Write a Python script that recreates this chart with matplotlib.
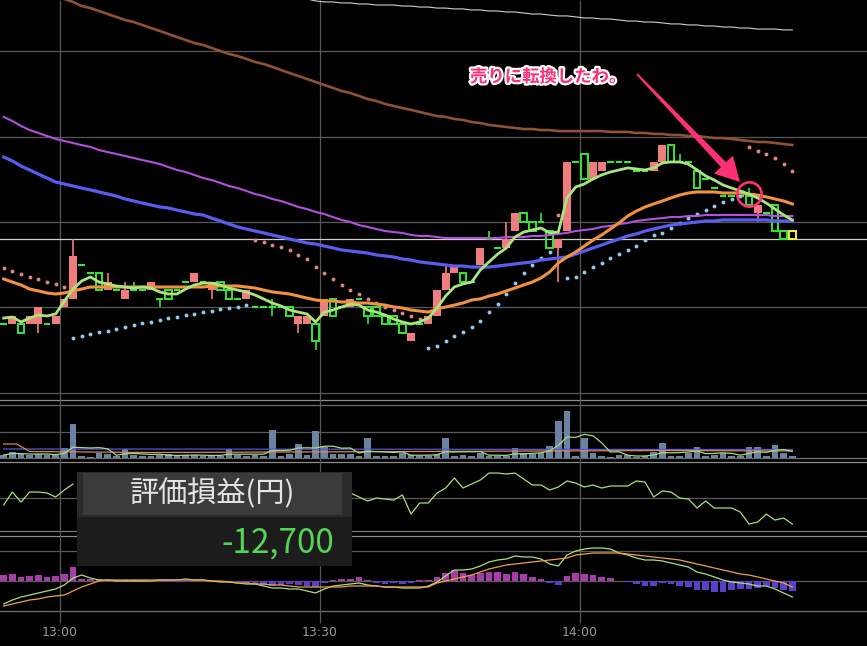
import numpy as np
import pandas as pd
import matplotlib
matplotlib.use("Agg")
import matplotlib.pyplot as plt
import matplotlib.patheffects as pe
from matplotlib.patches import Rectangle, Polygon

plt.rcParams['font.family'] = ['Noto Sans CJK JP', 'DejaVu Sans']

W, H = 867, 646

# ---------------- data: one-minute bars, minutes after 13:00 ----------------
bar_minute = list(range(-7, 85))
time_labels = ['13:00', '13:30', '14:00']

open_ = [21840, 21840, 21840, 21840, 21840, 21840, 21840, 21850, 21855, 21875,
         21870, 21870, 21860, 21860, 21855, 21860, 21860, 21860, 21855, 21860,
         21860, 21865, 21865, 21865, 21860, 21865, 21860, 21855, 21855, 21850,
         21850, 21850, 21850, 21850, 21840, 21840, 21840, 21845, 21855, 21850,
         21850, 21855, 21850, 21850, 21845, 21845, 21840, 21830, 21840, 21840,
         21845, 21860, 21870, 21870, 21865, 21875, 21890, 21885, 21885, 21895,
         21905, 21900, 21900, 21895, 21885, 21895, 21935, 21940, 21925, 21930,
         21935, 21935, 21935, 21930, 21930, 21930, 21935, 21945, 21935, 21935,
         21930, 21925, 21920, 21915, 21915, 21915, 21915, 21905, 21905, 21910, 21895, 21895]
high = [21840, 21845, 21840, 21845, 21850, 21840, 21845, 21855, 21890, 21875,
        21870, 21870, 21870, 21860, 21865, 21865, 21860, 21865, 21855, 21860,
        21860, 21865, 21870, 21865, 21865, 21865, 21860, 21855, 21860, 21850,
        21850, 21855, 21850, 21850, 21845, 21845, 21840, 21855, 21855, 21850,
        21855, 21855, 21850, 21850, 21845, 21845, 21840, 21835, 21840, 21845,
        21860, 21875, 21875, 21870, 21865, 21885, 21895, 21885, 21900, 21905,
        21905, 21900, 21905, 21895, 21890, 21935, 21935, 21940, 21935, 21935,
        21935, 21935, 21935, 21930, 21930, 21935, 21945, 21945, 21940, 21935,
        21930, 21925, 21920, 21915, 21915, 21915, 21920, 21910, 21905, 21910, 21895, 21895]
low = [21840, 21840, 21835, 21840, 21835, 21840, 21840, 21850, 21855, 21875,
       21870, 21860, 21860, 21860, 21855, 21860, 21860, 21860, 21850, 21855,
       21860, 21865, 21865, 21865, 21855, 21860, 21855, 21855, 21855, 21850,
       21850, 21845, 21850, 21845, 21835, 21840, 21825, 21845, 21845, 21850,
       21850, 21855, 21840, 21845, 21840, 21840, 21835, 21830, 21840, 21840,
       21845, 21860, 21870, 21865, 21865, 21875, 21890, 21885, 21885, 21895,
       21900, 21895, 21900, 21885, 21865, 21895, 21935, 21925, 21925, 21930,
       21935, 21935, 21935, 21930, 21930, 21930, 21935, 21935, 21935, 21935,
       21920, 21925, 21920, 21915, 21915, 21915, 21910, 21900, 21905, 21895, 21890, 21890]
close = [21840, 21845, 21835, 21845, 21850, 21840, 21845, 21855, 21880, 21875,
         21870, 21860, 21865, 21860, 21860, 21860, 21860, 21865, 21855, 21855,
         21860, 21865, 21870, 21865, 21865, 21860, 21855, 21855, 21860, 21850,
         21850, 21850, 21850, 21845, 21845, 21845, 21830, 21855, 21845, 21850,
         21855, 21855, 21845, 21845, 21840, 21840, 21835, 21835, 21840, 21845,
         21860, 21870, 21875, 21865, 21865, 21885, 21890, 21885, 21890, 21905,
         21900, 21895, 21900, 21885, 21890, 21935, 21935, 21925, 21935, 21935,
         21935, 21935, 21935, 21930, 21930, 21935, 21945, 21935, 21935, 21935,
         21920, 21925, 21920, 21915, 21915, 21915, 21910, 21910, 21905, 21895, 21890, 21890]

# moving averages on the price chart
ma_short = [21843.7, 21844.3, 21841.4, 21843.7, 21845.5, 21844.9, 21846.1, 21853.7, 21860.7, 21865.4,
            21867.8, 21864.8, 21863.7, 21862.5, 21861.9, 21861.3, 21861.9, 21861.3, 21859.0, 21857.8,
            21857.8, 21860.7, 21863.1, 21864.2, 21864.2, 21863.1, 21861.3, 21860.1, 21859.0, 21857.2,
            21854.9, 21852.5, 21850.8, 21848.4, 21847.2, 21846.1, 21841.4, 21847.2, 21848.4, 21850.2,
            21851.9, 21851.3, 21848.4, 21847.2, 21845.5, 21843.1, 21841.4, 21840.2, 21841.4, 21843.7,
            21849.6, 21856.6, 21861.9, 21863.7, 21864.8, 21871.9, 21876.6, 21881.2, 21884.8, 21891.2,
            21894.1, 21895.3, 21896.5, 21893.6, 21894.1, 21914.1, 21920.5, 21922.3, 21925.2, 21927.6,
            21929.3, 21930.5, 21931.7, 21931.1, 21930.5, 21931.7, 21934.6, 21935.2, 21935.2, 21934.0,
            21930.5, 21927.0, 21924.6, 21921.7, 21919.9, 21918.2, 21916.4, 21914.1, 21911.1, 21907.6,
            21904.1, 21901.2]
ma_mid = [21866.6, 21864.8, 21863.1, 21860.7, 21859.6, 21858.4, 21857.8, 21858.4, 21859.6, 21860.7,
          21861.9, 21861.9, 21861.9, 21861.9, 21861.9, 21861.9, 21861.9, 21861.9, 21861.9, 21861.9,
          21861.9, 21861.9, 21861.9, 21861.9, 21862.5, 21862.5, 21862.5, 21862.5,
          21861.9, 21861.3, 21860.1, 21859.0, 21858.4, 21857.8, 21856.6, 21855.4, 21854.3, 21853.7,
          21853.7, 21853.1, 21853.1, 21852.5, 21852.5, 21851.9, 21851.3, 21850.2, 21849.6, 21848.4,
          21847.8, 21847.2, 21849.0, 21850.2, 21851.3, 21852.5, 21854.3, 21854.9, 21856.6, 21857.8,
          21859.6, 21861.3, 21863.1, 21864.8, 21867.2, 21870.7, 21876.0, 21879.5, 21882.4, 21885.9,
          21889.4, 21892.4, 21895.9, 21899.4, 21903.5, 21906.4, 21908.8, 21910.6, 21912.3, 21914.1,
          21915.8, 21917.0, 21917.6, 21917.6, 21917.6, 21917.0, 21917.0, 21917.0, 21916.4, 21915.8,
          21914.7, 21913.5, 21912.3, 21910.6]
ma_long_blue = [21938.1, 21935.8, 21932.8, 21930.5, 21928.1, 21925.8, 21923.4, 21922.3, 21921.1, 21919.9,
                21918.8, 21917.6, 21916.4, 21915.2, 21913.5, 21912.3, 21911.1, 21910.0, 21908.8, 21908.2,
                21907.0, 21905.9, 21904.7, 21904.1, 21902.3, 21900.6, 21898.8, 21897.1, 21895.9, 21894.7,
                21893.6, 21892.4, 21891.2, 21890.0, 21888.9, 21887.7, 21887.1, 21885.9, 21884.8, 21883.6,
                21883.0, 21882.4, 21881.8, 21880.7, 21880.1, 21879.5, 21878.3, 21877.7, 21876.6, 21876.0,
                21875.4, 21874.8, 21874.2, 21874.2, 21873.6, 21873.6, 21873.6, 21874.2, 21874.8, 21875.4,
                21876.0, 21876.6, 21877.7, 21878.3, 21878.9, 21879.5, 21881.2, 21883.0, 21884.8, 21886.5,
                21888.3, 21890.0, 21891.8, 21893.0, 21894.7, 21895.9, 21897.1, 21898.2, 21898.8, 21899.4,
                21900.0, 21900.6, 21900.6, 21901.2, 21901.2, 21901.2, 21901.2, 21901.2, 21901.2, 21900.6,
                21900.6, 21900.6]
ma_long_purple = [21961.6, 21959.2, 21956.3, 21953.9, 21952.2, 21950.4, 21948.7, 21947.5, 21946.3, 21945.1,
                  21944.0, 21942.2, 21941.0, 21939.9, 21938.7, 21937.5, 21936.3, 21935.2, 21934.0, 21932.2,
                  21930.5, 21929.3, 21927.6, 21925.8, 21924.6, 21922.9, 21921.1, 21919.9, 21918.2, 21916.4,
                  21915.2, 21913.5, 21912.3, 21910.6, 21908.8, 21907.6, 21905.9, 21904.7, 21902.9, 21901.2,
                  21900.0, 21898.2, 21897.1, 21895.9, 21894.7, 21894.1, 21893.6, 21892.4, 21891.8, 21891.8,
                  21891.2, 21890.6, 21890.6, 21890.6, 21890.6, 21890.6, 21890.6, 21890.6, 21891.2, 21891.2,
                  21891.2, 21891.8, 21891.8, 21892.4, 21893.0, 21893.6, 21894.7, 21895.3, 21895.9, 21897.1,
                  21897.7, 21898.8, 21899.4, 21900.6, 21901.2, 21901.8, 21902.3, 21902.9, 21902.9, 21903.5,
                  21903.5, 21904.1, 21904.1, 21904.1, 21904.1, 21904.1, 21904.1, 21904.1, 21904.1, 21903.5,
                  21903.5, 21903.5]
ma_long_brown = [22041.9, 22040.1, 22038.3, 22036.6, 22034.8, 22033.1, 22031.9, 22030.7, 22029.0, 22026.6,
                 22025.4, 22023.7, 22021.9, 22020.2, 22018.4, 22017.2, 22015.5, 22013.7, 22012.0, 22010.2,
                 22008.4, 22006.7, 22004.9, 22003.8, 22002.0, 22000.2, 21998.5, 21997.3, 21995.6, 21993.8,
                 21992.6, 21990.9, 21989.1, 21987.3, 21985.6, 21983.8, 21982.1, 21980.3, 21978.6, 21976.8,
                 21975.6, 21973.9, 21972.1, 21970.9, 21969.2, 21968.0, 21966.8, 21965.7, 21964.5, 21963.3,
                 21962.1, 21961.6, 21960.4, 21959.8, 21958.6, 21958.0, 21956.9, 21956.3, 21955.7, 21955.1,
                 21954.5, 21954.5, 21953.9, 21953.9, 21953.3, 21953.3, 21953.3, 21953.3, 21953.3, 21953.3,
                 21952.8, 21952.8, 21952.8, 21952.2, 21952.2, 21951.6, 21951.6, 21951.0, 21951.0, 21950.4,
                 21950.4, 21949.8, 21949.2, 21949.2, 21948.7, 21948.1, 21947.5, 21946.9, 21946.9, 21946.3,
                 21945.7, 21945.1]
ma_longest = [None] * 34 + [
    22031.3, 22030.7, 22029.6, 22029.0, 22029.0, 22028.4, 22028.4, 22027.8, 22027.8, 22027.2,
    22027.2, 22027.2, 22026.6, 22026.6, 22026.0, 22026.0, 22025.4, 22025.4, 22024.9, 22024.9,
    22024.3, 22024.3, 22023.7, 22023.7, 22023.1, 22023.1, 22022.5, 22021.9, 22021.9, 22021.3,
    22020.8, 22020.8, 22020.2, 22019.6, 22019.6, 22019.0, 22019.0, 22018.4, 22017.8, 22017.8,
    22017.2, 22017.2, 22016.7, 22016.1, 22016.1, 22015.5, 22015.5, 22014.9, 22014.9, 22014.3,
    22014.3, 22013.7, 22013.7, 22013.1, 22013.1, 22013.1, 22012.6, 22012.6]

# parabolic SAR: value per bar and side (D = above price, U = below price)
sar = [21873.0, 21871.3, 21869.5, 21867.8, 21866.6, 21864.8, 21863.7, 21861.9,
       21832.0, 21833.2, 21834.3, 21835.5, 21836.1, 21837.3, 21838.4, 21839.6, 21840.8, 21841.4,
       21842.6, 21843.7, 21844.3, 21845.5, 21846.1, 21847.2, 21847.8, 21849.0, 21849.6, 21850.2, 21851.3,
       21889.4, 21888.3, 21886.5, 21885.3, 21883.6, 21880.7, 21878.3, 21873.6, 21870.1, 21866.6,
       21863.1, 21860.1, 21857.8, 21854.9, 21852.5, 21850.2, 21848.4, 21846.7, 21844.9, 21843.1,
       21826.1, 21827.3, 21830.2, 21833.2, 21835.5, 21838.4, 21842.0, 21847.2, 21851.9, 21857.8,
       21864.2, 21870.1, 21874.8, 21878.9, 21882.4,
       21904.1,
       21867.2, 21867.8, 21870.7, 21873.6, 21876.0, 21878.9, 21881.2, 21883.6, 21885.9, 21889.4,
       21892.4, 21893.6, 21896.5, 21899.4, 21902.3, 21904.7, 21907.0, 21909.4, 21911.7, 21913.5, 21915.2,
       21944.0, 21941.6, 21939.9, 21937.5, 21934.0, 21929.9]
sar_side = ("DDDDDDDD" "UUUUUUUUUUUUUUUUUUUUU" "DDDDDDDDDDDDDDDDDDDD"
            "UUUUUUUUUUUUUUU" "D" "UUUUUUUUUUUUUUUUUUUUU" "DDDDDD")

volume = [60, 120, 80, 60, 80, 60, 60, 200, 680, 40,
          20, 100, 80, 40, 180, 60, 40, 40, 60, 80,
          40, 60, 60, 40, 60, 40, 180, 60, 40, 60,
          40, 560, 40, 80, 280, 60, 540, 220, 80, 80,
          80, 40, 400, 40, 40, 40, 100, 60, 40, 40,
          80, 400, 40, 60, 40, 100, 40, 40, 40, 200,
          100, 80, 100, 240, 740, 940, 40, 400, 100, 40,
          20, 60, 60, 20, 40, 120, 300, 40, 40, 100,
          220, 40, 60, 100, 40, 40, 220, 220, 40, 260, 100, 40]
vol_mid_t = [-7, -5.5, -4, 10, 25, 40, 55, 70, 84]
vol_mid = [280, 280, 130, 110, 120, 130, 140, 150, 140]
vol_long_t = [-7, 40, 84]
vol_long = [180, 175, 170]

rsi = [37.7, 56.5, 42.0, 56.5, 56.5, 55.1, 49.3, 59.4, 68.1] + [None] * 31 + [
    55.1, 49.3, 43.5, 47.8, 46.4, 44.9, 52.2, 24.6, 40.6, 40.6,
    55.1, 62.3, 76.8, 62.3, 68.1, 73.9, 84.0, 84.0, 82.6, 84.0,
    75.4, 66.7, 66.7, 59.4, 63.8, 72.5, 69.6, 63.8, 66.7, 62.3,
    65.2, 65.2, 65.2, 72.5, 71.0, 49.3, 58.0, 56.5, 47.8, 46.4,
    33.3, 43.5, 33.3, 33.3, 33.3, 27.5, 10.1, 13.0, 24.6, 15.9, 18.8, 10.1]

macd = [-5.75, -4.75, -4.0, -3.5, -3.0, -2.5, -2.0, -1.0, 0.75, 1.5,
        0.75, 0.25, 0.25, 0, 0, 0, 0, 0, 0.25, 0.25,
        0.25, 0.5, 0.25, 0.25, 0, -0.25, -0.25, -0.5, -0.75, -0.75,
        -1.25, -1.75, -1.75, -2.0, -2.0, -2.5, -3.0, -2.0, -1.25, -1.0,
        -0.75, -0.5, -1.0, -1.25, -1.5, -1.5, -1.75, -1.75, -1.75, -1.25,
        -0.25, 1.25, 2.75, 2.75, 3.0, 3.75, 4.75, 5.25, 5.5, 6.25,
        6.0, 6.0, 5.5, 4.25, 3.75, 6.5, 7.5, 8.0, 8.25, 8.25,
        8.0, 7.0, 6.5, 5.75, 5.25, 5.25, 5.0, 4.5, 4.0, 3.5,
        2.25, 1.75, 1.0, 0.25, -0.25, -0.5, -0.75, -1.25, -1.25, -2.0, -3.0, -4.0]
macd_signal = [-6.25, -5.75, -5.25, -4.75, -4.5, -4.0, -3.75, -3.5, -2.5, -1.5,
               -0.75, 0, 0.25, 0.25, 0.25, 0.25, 0.25, 0.25, 0.25, 0.25,
               0.25, 0.25, 0.25, 0.25, 0, 0, -0.25, -0.5, -0.5, -0.75,
               -0.75, -1.0, -1.0, -1.25, -1.5, -1.5, -1.5, -1.5, -1.5, -1.5,
               -1.25, -1.25, -1.25, -1.25, -1.5, -1.5, -1.5, -1.5, -1.5, -1.5,
               -0.5, 0, 0.5, 1.0, 1.5, 2.25, 3.0, 3.5, 4.0, 4.25,
               4.5, 4.75, 5.0, 5.25, 5.5, 5.75, 6.5, 6.75, 7.0, 7.0,
               7.0, 7.0, 6.75, 6.5, 6.25, 6.0, 5.75, 5.5, 5.25, 4.75,
               4.25, 3.75, 3.25, 2.75, 2.25, 1.75, 1.5, 1.0, 0.5, 0, -0.5, -1.5]
macd_hist = [1.5, 1.75, 1.0, 1.25, 1.5, 1.0, 1.25, 1.75, 3.5, 0.5,
             0.5, 0.5, 0.25, 0.25, 0.25, 0.25, 0.25, 0, 0, -0.25,
             -0.25, -0.25, 0, 0, 0, 0, 0, -0.25, -0.5, -0.75,
             -1.0, -1.25, -1.0, -0.75, -1.0, -1.25, -1.5, -0.5, 0.25, 0.5,
             0.5, 1.0, 0.25, -0.5, -0.75, -0.5, -0.75, -0.5, 0.25, 0.25,
             1.0, 2.0, 2.75, 2.0, 1.5, 2.0, 2.25, 2.25, 1.75, 2.25,
             1.75, 1.0, 0.5, -0.5, -1.0, 1.25, 2.0, 1.75, 1.5, 1.0,
             0.75, 0, -0.25, -0.75, -1.25, -1.25, -0.5, -0.75, -1.25, -1.5,
             -2.25, -2.25, -2.75, -2.75, -2.25, -2.0, -2.0, -1.75, -1.25, -1.75, -2.25, -2.5]

pnl_title = '評価損益(円)'
pnl_value = -12700
note_text = '売りに転換したわ。'

# ---------------- colours ----------------
BG = 'black'
UP = '#f07d7d'
DOWN = '#33e833'
LAST = '#f2f23a'
GRID = '#585858'
FRAME = '#8c8c8c'
PINK = '#ff2f76'

# ---------------- layout ----------------
BAR_PX = 260 / 30                       # pixels per one-minute bar
X0 = -0.5 - 60 / BAR_PX
XL = (X0, X0 + W / BAR_PX)
YEN_PX = 1.706                          # pixels per yen on the price panel

fig = plt.figure(figsize=(W / 100, H / 100), dpi=100, facecolor=BG)


def px_axes(zorder):
    ax = fig.add_axes([0, 0, 1, 1], zorder=zorder)
    ax.set_xlim(XL)
    ax.set_ylim(H, 0)
    ax.axis('off')
    return ax


def panel(top, bottom, ylim):
    ax = fig.add_axes([0, 1 - bottom / H, 1, (bottom - top) / H], zorder=1)
    ax.set_xlim(XL)
    ax.set_ylim(ylim)
    ax.axis('off')
    return ax


ax_bg = px_axes(0)
ax_main = panel(0, 395, (21900 - (395 - 222) / YEN_PX, 21900 + 222 / YEN_PX))
ax_vol = panel(400, 460, (-40, 1160))
ax_rsi = panel(460, 536, (-7.2, 102.9))
ax_macd = panel(534, 612, (-7.75, 11.75))

x = np.array(bar_minute, dtype=float)
o, hi, lo, c = (np.array(a, dtype=float) for a in (open_, high, low, close))

# frame lines between the panels and vertical time grid
for y, col in [(400, FRAME), (405, '#6a6a6a'), (432, GRID), (458, '#707070'), (462, FRAME),
               (498, GRID), (531, '#7a7a7a'), (536, FRAME), (551, GRID), (581, GRID), (611, '#707070')]:
    ax_bg.axhline(y, color=col, lw=0.9)
tick_pos = []
for lab in time_labels:
    hh, mm = map(int, lab.split(':'))
    tick_pos.append(hh * 60 + mm - 13 * 60 - 0.5)
ax_bg.vlines(tick_pos, 0, 623, color=GRID, lw=0.9)
for p, lab in zip(tick_pos, time_labels):
    ax_bg.text(p, 632, lab, ha='center', va='center', color='#9a9a9a', fontsize=9,
               family='DejaVu Sans')

# ---------------- price panel ----------------
for lvl in (21800, 21850, 21900, 21950, 22000):
    ax_main.axhline(lvl, color=GRID, lw=0.9, zorder=0)
ax_main.axhline(c[-1], color='#cfcfcf', lw=0.9, zorder=0)

for i in range(len(x)):
    col = LAST if i == len(x) - 1 else (UP if c[i] > o[i] else DOWN)
    top, bot = max(o[i], c[i]), min(o[i], c[i])
    if hi[i] > top:
        ax_main.vlines(x[i], top, hi[i], color=col, lw=1.2, zorder=2)
    if lo[i] < bot:
        ax_main.vlines(x[i], lo[i], bot, color=col, lw=1.2, zorder=2)
    if c[i] > o[i]:
        ax_main.add_patch(Rectangle((x[i] - 0.46, o[i]), 0.92, c[i] - o[i],
                                    facecolor=col, edgecolor='none', zorder=2))
    elif c[i] < o[i]:
        ax_main.add_patch(Rectangle((x[i] - 0.37, c[i]), 0.74, o[i] - c[i],
                                    facecolor='none', edgecolor=col, lw=1.4, zorder=2))
    else:
        ax_main.hlines(o[i], x[i] - 0.4, x[i] + 0.4, color=col, lw=1.5, zorder=2)

sar_v = np.array(sar)
above = np.array([s == 'D' for s in sar_side])
ax_main.plot(x[above], sar_v[above], 'o', ms=2.8, color='#e58383', mec='none', zorder=3)
ax_main.plot(x[~above], sar_v[~above], 'o', ms=2.8, color='#8ccbec', mec='none', zorder=3)

ax_main.plot(x, np.array(ma_longest, dtype=float), color='#cfcfcf', lw=0.8, zorder=3)
ax_main.plot(x, ma_long_brown, color='#8e5330', lw=1.9, zorder=3)
ax_main.plot(x, ma_long_purple, color='#b44fe0', lw=1.5, zorder=3)
ax_main.plot(x, ma_long_blue, color='#5a5cf0', lw=2.3, zorder=3)
ax_main.plot(x, ma_mid, color='#f2913e', lw=2.2, zorder=4)
ax_main.plot(x, ma_short, color='#a9e47c', lw=2.0, zorder=5)

# ---------------- volume panel ----------------
vol = np.array(volume, dtype=float)
ax_vol.bar(x, vol, width=0.76, color='#6b83a3', zorder=2)
ax_vol.plot(vol_long_t, vol_long, color='#5656e0', lw=0.9, zorder=3)
ax_vol.plot(vol_mid_t, vol_mid, color='#d88a5a', lw=0.9, zorder=3)
ax_vol.plot(x, pd.Series(vol).rolling(5, min_periods=1).mean(), color='#a6dc78', lw=0.9, zorder=4)

# ---------------- oscillator panel ----------------
ax_rsi.plot(x, np.array(rsi, dtype=float), color='#a9df72', lw=0.9)

# ---------------- MACD panel ----------------
hist = np.array(macd_hist)
ax_macd.bar(x, hist, width=0.8, color=np.where(hist >= 0, '#a83aac', '#5b3fcb'), zorder=2)
ax_macd.plot(x, macd, color='#a9e07a', lw=0.9, zorder=3)
ax_macd.plot(x, macd_signal, color='#f0a048', lw=0.9, zorder=3)

# ---------------- overlays ----------------
ax_top = fig.add_axes([0, 0, 1, 1], zorder=10)
ax_top.set_xlim(0, W)
ax_top.set_ylim(H, 0)
ax_top.axis('off')

# profit / loss box
ax_top.add_patch(Rectangle((77, 472), 275, 94, facecolor='#1c1c1c', edgecolor='none'))
ax_top.add_patch(Rectangle((77, 472), 275, 45, facecolor='#2a2a2a', edgecolor='none'))
ax_top.add_patch(Rectangle((83, 473), 259, 42, facecolor='#3b3b3b', edgecolor='none'))
ax_top.text(213, 494, pnl_title, ha='center', va='center', color='#e4e4e4', fontsize=21)
ax_top.text(334, 543, f'{pnl_value:,}', ha='right', va='center', color='#54d454', fontsize=24)

# circled cross of the short and middle averages
k = bar_minute.index(79)
ax_main.plot(x[k], ma_mid[k], 'o', ms=17.5, mfc='none', mec=PINK, mew=1.9, zorder=6)

# arrow pointing at the circle
to_top = ax_top.transData.inverted()
cx, cy = to_top.transform(ax_main.transData.transform((x[k], ma_mid[k])))
tip = np.array([cx - 9, cy - 12])
start = tip + np.array([-103, -108])
d = (tip - start) / np.hypot(*(tip - start))
n = np.array([-d[1], d[0]])
base = tip - d * 24
arrow = [start + n * 1.0, base + n * 3.5, base + n * 13, tip,
         base - n * 13, base - n * 3.5, start - n * 1.0]
ax_top.add_patch(Polygon(arrow, closed=True, facecolor=PINK, edgecolor='none'))

ax_top.text(470, 77, note_text, ha='left', va='center', color=PINK, fontsize=12.5,
            fontweight='bold',
            path_effects=[pe.withStroke(linewidth=3.2, foreground='white')])

fig.savefig('out.png', dpi=100, facecolor=BG)
